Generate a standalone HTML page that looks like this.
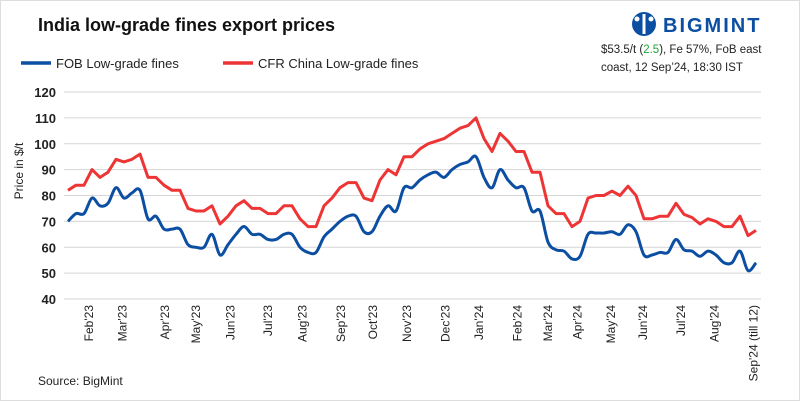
<!DOCTYPE html>
<html><head><meta charset="utf-8"><style>
body{margin:0;background:#fff;font-family:"Liberation Sans",sans-serif}
#wrap{position:relative;width:798px;height:399px;border:1px solid #ddd;overflow:hidden}
</style></head><body>
<div id="wrap">
<svg width="800" height="401" id="svg">
<text x="37" y="30" font-size="18" font-weight="bold" fill="#111">India low-grade fines export prices</text>
<g><line x1="20" y1="62" x2="50" y2="62" stroke="#0b4ea2" stroke-width="3.5"/><text x="55" y="67" font-size="13" fill="#222">FOB Low-grade fines</text></g>
<g><line x1="222" y1="62" x2="252" y2="62" stroke="#ee3535" stroke-width="3.5"/><text x="257" y="67" font-size="13" fill="#222">CFR China Low-grade fines</text></g>
<g>
<circle cx="643" cy="23" r="12" fill="#0b4ea2"/><rect x="641.5" y="13" width="3" height="20" fill="#fff"/><circle cx="636" cy="18" r="2.5" fill="#fff"/><circle cx="650" cy="18" r="2.5" fill="#fff"/>
<text x="662" y="31" font-size="20" font-weight="bold" fill="#0b4ea2" letter-spacing="2">BIGMINT</text></g>
<text x="600" y="52" font-size="11.5" fill="#222">$53.5/t (<tspan fill="#22a63a">2.5</tspan>), Fe 57%, FoB east</text>
<text x="600" y="70" font-size="11.5" fill="#222">coast, 12 Sep’24, 18:30 IST</text>
<text transform="translate(22,170) rotate(-90)" text-anchor="middle" font-size="12" fill="#222">Price in $/t</text>
<text x="37" y="384" font-size="12" fill="#222">Source: BigMint</text>
<g id="grid"></g><g id="ylab"></g><g id="xlab"></g><g id="series"></g>
</svg></div>
<script>
const yTicks=[40,50,60,70,80,90,100,110,120];
const cfr=[82,84,84,90,87,89,94,93,94,96,87,87,84,82,82,75,74,74,76,69,72,76,78,75,75,73,73,76,76,71,68,68,76,79,83,85,85,79,78,86,90,88,95,95,98,100,101,102,104,106,107,110,102,97,104,101,97,97,89,89,76,73,73,68,70,79,80,80,81.7,80,83.6,80,71,71,72,72,77,72.7,71.5,69,71,70,68,68,72,64.5,66.5];
const fob=[70,73,73,79,76,77,83,79,81,82,71,72,67,67,67,61,60,60,65,57,61,65,68,65,65,63,63,65,65,60,58,58,64,67,70,72,72,66,66,72,76,74,83,83,86,88,89,87,90,92,93,95,87,83,90,86,83,83,74,74,62,59,58.5,55.5,56.5,65,65.5,65.5,66,65,68.7,66,57,57,58,58,63,59,58.5,56.5,58.5,57,54,54,58.5,51,54];
const monthLabels=["Feb'23","Mar'23","Apr'23","May'23","Jun'23","Jul'23","Aug'23","Sep'23","Oct'23","Nov'23","Dec'23","Jan'24","Feb'24","Mar'24","Apr'24","May'24","Jun'24","Jul'24","Aug'24","Sep'24 (till 12)"];
const monthIdx=[2.6,6.8,12.1,16,20.3,25,29.3,34.1,38.1,42.4,47.2,51.4,56.2,60,63.7,67.9,71.9,76.6,80.8,85.7];
const NS="http://www.w3.org/2000/svg";
const X0=67,X1=755,Y120=91,Y40=298;
const xs=i=>X0+i*(X1-X0)/(cfr.length-1);
const ys=v=>Y40-(v-40)*(Y40-Y120)/80;
function mk(t,a,p){const e=document.createElementNS(NS,t);for(const k in a)e.setAttribute(k,a[k]);p.appendChild(e);return e;}
const grid=document.getElementById('grid'),yl=document.getElementById('ylab'),xl=document.getElementById('xlab'),sg=document.getElementById('series');
yTicks.forEach(t=>{
 const l=mk('line',{x1:63,x2:760,y1:ys(t),y2:ys(t),stroke:'#d6d6d6','stroke-width':1},grid);
 
 
 const tx=mk('text',{x:55,y:ys(t)+5,'text-anchor':'end','font-size':13,'font-weight':'bold',fill:'#222'},yl);
 tx.textContent=t;
 
 
});
monthLabels.forEach((m,i)=>{
 const x=xs(monthIdx[i]);
 const tx=mk('text',{transform:`translate(${x+4},304) rotate(-90)`,'text-anchor':'end','font-size':12,fill:'#222'},xl);
 tx.textContent=m;
 
 
});
function straight(d){return d.map((v,i)=>(i?'L':'M')+xs(i).toFixed(1)+','+ys(v).toFixed(1)).join('');}
function smooth(d){const p=d.map((v,i)=>[xs(i),ys(v)]);let s='M'+p[0][0]+','+p[0][1];
 for(let i=0;i<p.length-1;i++){const a=p[Math.max(0,i-1)],b=p[i],c=p[i+1],e=p[Math.min(p.length-1,i+2)];
 const t=0.5/3;s+=`C${b[0]+(c[0]-a[0])*t},${b[1]+(c[1]-a[1])*t} ${c[0]-(e[0]-b[0])*t},${c[1]-(e[1]-b[1])*t} ${c[0]},${c[1]}`;}return s;}
const r=mk('path',{d:straight(cfr),fill:'none',stroke:'#ee3535','stroke-width':3,'stroke-linejoin':'round'},sg);


const b=mk('path',{d:smooth(fob),fill:'none',stroke:'#0b4ea2','stroke-width':3,'stroke-linejoin':'round'},sg);


</script>
</body></html>
